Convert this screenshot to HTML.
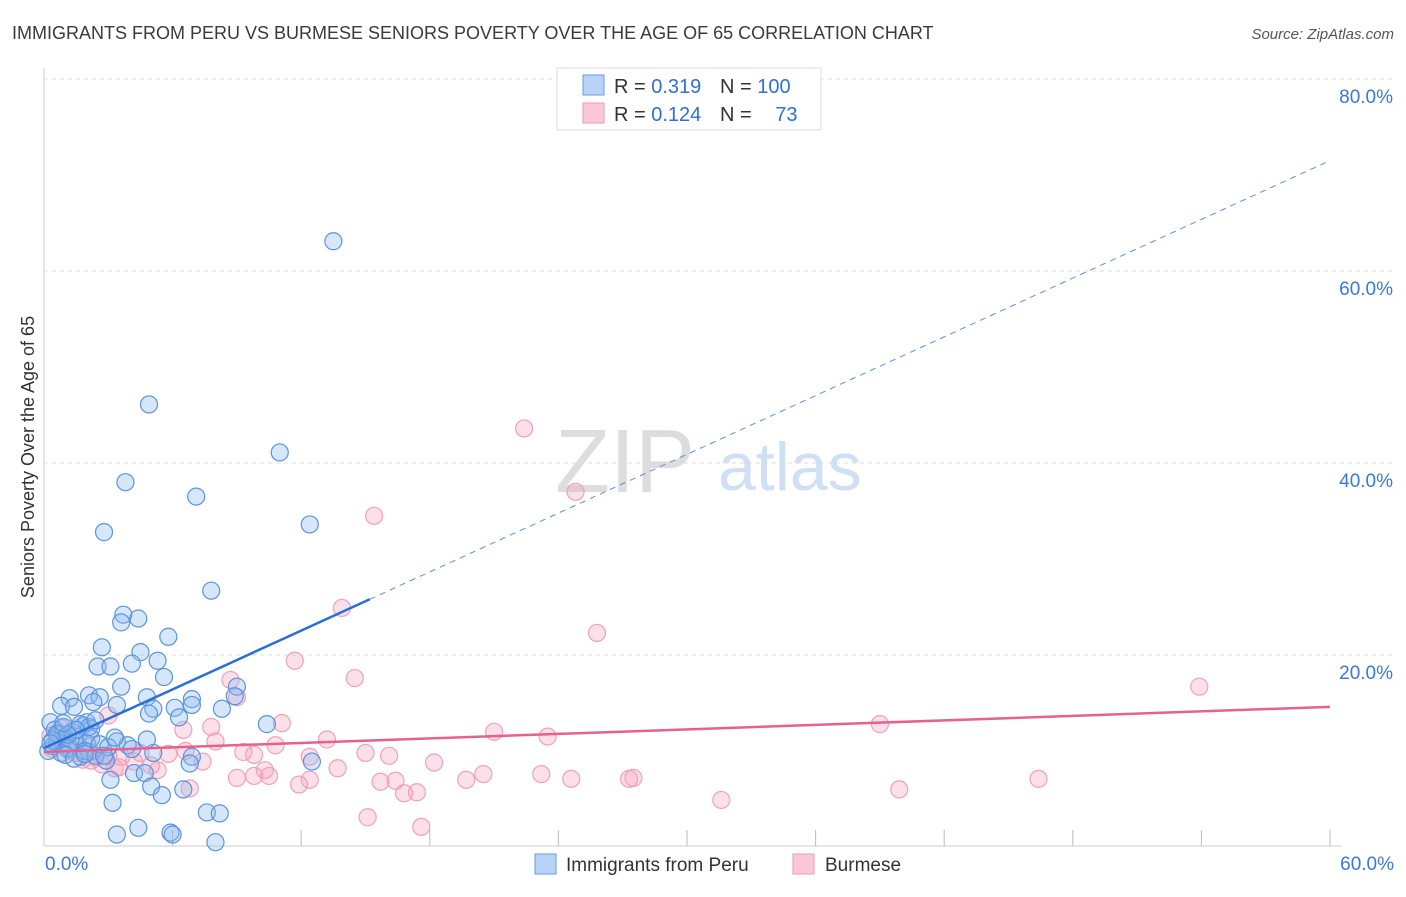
<!DOCTYPE html>
<html><head><meta charset="utf-8"><style>
body{margin:0;background:#fff;font-family:"Liberation Sans",sans-serif;}
svg text{font-family:"Liberation Sans",sans-serif;}
</style></head><body>
<svg id="chart" width="1406" height="892">
<text x="12" y="39" font-size="18" fill="#3a3a3a">IMMIGRANTS FROM PERU VS BURMESE SENIORS POVERTY OVER THE AGE OF 65 CORRELATION CHART</text>
<text x="1394" y="39" font-size="15" fill="#555" font-style="italic" text-anchor="end">Source: ZipAtlas.com</text>
<text x="34" y="457" font-size="18" fill="#333" text-anchor="middle" transform="rotate(-90 34 457)">Seniors Poverty Over the Age of 65</text>
<text x="555" y="492" font-size="90" fill="#ddd" font-family="Liberation Serif">ZIP</text>
<text x="718" y="490" font-size="68" fill="#cfe0f4">atlas</text>
<g id="grid"></g>
<g id="pts"></g>
<g id="lines"></g>
<g>
<rect x="557" y="68" width="264" height="62" fill="#fff" stroke="#ddd"/>
<rect x="583" y="75" width="21" height="20" fill="#b8d3f5" stroke="#6a9ee0"/>
<rect x="583" y="103" width="21" height="20" fill="#fac8d6" stroke="#ef9ab3"/>
<text x="614" y="93" font-size="20" fill="#333">R = <tspan fill="#2f6fd6">0.319</tspan></text>
<text x="720" y="93" font-size="20" fill="#333">N = <tspan fill="#2f6fd6">100</tspan></text>
<text x="614" y="121" font-size="20" fill="#333">R = <tspan fill="#2f6fd6">0.124</tspan></text>
<text x="720" y="121" font-size="20" fill="#333">N = <tspan fill="#2f6fd6" dx="18">73</tspan></text>
</g>
<g>
<rect x="535" y="854" width="21" height="20" fill="#b8d3f5" stroke="#6a9ee0"/>
<text x="566" y="871" font-size="19" fill="#333">Immigrants from Peru</text>
<rect x="793" y="854" width="21" height="20" fill="#fac8d6" stroke="#ef9ab3"/>
<text x="825" y="871" font-size="19" fill="#333">Burmese</text>
</g>
</svg>
<script>
const blueX=[13.5,4.9,11.0,3.8,7.1,12.4,2.8,7.8,3.7,3.6,4.4,5.8,2.7,4.5,5.3,2.5,3.1,4.1,5.6,3.6,9.0,2.1,2.6,4.8,6.9,8.9,1.2,0.8,1.4,2.3,3.4,5.1,6.1,6.9,8.3,4.9,6.3,10.4,0.3,0.5,0.7,0.9,1.0,1.3,1.5,1.8,2.0,2.2,0.4,0.6,1.1,1.6,2.0,0.2,0.8,1.2,2.1,2.2,1.7,3.4,3.9,1.0,1.4,1.9,2.4,2.9,0.4,1.7,2.1,4.1,5.1,6.9,12.5,6.8,3.1,4.2,4.7,5.0,5.5,6.5,7.6,8.2,3.2,3.4,4.4,5.9,6.0,8.0,0.6,1.5,2.6,3.0,4.8,3.3,2.4,1.1,1.9,0.3,0.9,2.8];
const blueY=[63.1,46.1,41.1,38.0,36.5,33.6,32.8,26.7,24.2,23.4,23.8,21.9,20.8,20.3,19.4,18.8,18.8,19.1,17.7,16.7,16.7,15.8,15.6,15.6,15.4,15.7,15.5,14.7,14.6,15.1,14.8,14.4,14.5,14.8,14.4,13.9,13.5,12.8,13.0,12.2,11.8,12.5,11.4,12.0,11.0,12.6,13.0,12.3,10.5,10.9,10.2,11.5,10.8,10.0,9.8,10.3,9.9,11.3,9.4,11.0,10.6,9.6,9.2,10.0,9.5,9.0,11.1,12.8,12.5,10.2,9.8,9.4,8.9,8.7,7.0,7.7,7.7,6.3,5.4,6.0,3.6,3.5,4.6,1.3,2.0,1.5,1.3,0.5,11.8,12.2,10.7,10.4,11.2,11.4,13.2,11.7,9.7,10.8,12.9,9.5];
const pinkX=[22.4,24.8,15.4,13.9,25.8,11.7,53.9,14.5,8.7,9.0,11.1,7.8,39.0,21.0,23.5,6.5,3.0,13.2,10.8,15.0,16.1,9.8,9.3,18.2,12.4,8.0,10.3,20.5,23.2,24.6,27.3,27.5,46.4,19.7,15.7,16.4,13.7,9.0,9.8,10.5,11.9,12.4,16.8,17.4,31.6,39.9,15.1,17.6,0.3,0.6,0.9,1.2,1.5,1.8,2.1,2.4,2.7,3.0,3.3,3.6,4.2,5.0,5.8,6.6,7.4,0.8,1.5,2.2,3.5,4.5,5.3,6.8,0.4];
const pinkY=[43.6,37.0,34.5,24.9,22.3,19.4,16.7,17.6,17.4,15.6,12.9,12.5,12.8,12.0,11.5,12.2,13.7,11.2,10.6,9.8,9.5,9.6,9.9,8.8,9.4,11.0,8.0,7.6,7.6,7.1,7.1,7.2,7.1,7.0,6.8,6.9,8.2,7.2,7.4,7.4,6.5,7.0,5.6,5.7,4.9,6.0,3.1,2.1,11.6,10.7,11.2,10.0,9.8,9.1,10.4,9.3,8.6,9.5,8.2,9.4,8.9,8.5,9.7,10.0,8.9,12.4,11.0,9.0,8.3,9.8,8.0,6.1,10.2];
const yTicks=[20,40,60,80];
const yTickLabels=["20.0%","40.0%","60.0%","80.0%"];
const xTickLabels=["0.0%","60.0%"];
const blueTrend=[10.3,71.5];
const pinkTrend=[9.9,14.6];
const X0=44,X1=1330,Y0=847;
const sx=v=>X0+(X1-X0)*v/60;
const sy=v=>Y0-v*9.6;
const NS="http://www.w3.org/2000/svg";
function mk(tag,attrs,parent){const e=document.createElementNS(NS,tag);for(const k in attrs)e.setAttribute(k,attrs[k]);parent.appendChild(e);return e;}
const grid=document.getElementById('grid');
let ax=mk('line',{x1:X0,y1:68,x2:X0,y2:846,stroke:'#ccc'},grid);


let bx=mk('line',{x1:X0,y1:846,x2:X1+12,y2:846,stroke:'#ccc'},grid);


yTicks.forEach((t,i)=>{
 const g=mk('line',{x1:X0,y1:sy(t),x2:1394,y2:sy(t),stroke:'#ddd','stroke-dasharray':'4,4'},grid);
 
 
 const tx=mk('text',{x:1393,y:sy(t)+24,'font-size':19,fill:'#3b78d8','text-anchor':'end'},grid);
 tx.textContent=yTickLabels[i];
 
 
});
for(let i=1;i<=10;i++){
 const x=X0+(X1-X0)*i/10;
 const t=mk('line',{x1:x,y1:830,x2:x,y2:846,stroke:'#bbb'},grid);
 
 
}
const xl0=mk('text',{x:45,y:870,'font-size':19,fill:'#3b78d8'},grid);xl0.textContent=xTickLabels[0];


const xl1=mk('text',{x:1394,y:870,'font-size':19,fill:'#3b78d8','text-anchor':'end'},grid);xl1.textContent=xTickLabels[1];


const pts=document.getElementById('pts');
pinkX.forEach((v,i)=>{const c=mk('circle',{cx:sx(v),cy:sy(pinkY[i]),r:8.5,fill:'rgba(246,160,186,0.32)',stroke:'#f0a0b8','stroke-width':1.2},pts);
 
 });
blueX.forEach((v,i)=>{const c=mk('circle',{cx:sx(v),cy:sy(blueY[i]),r:8.5,fill:'rgba(140,185,240,0.35)',stroke:'#5a93de','stroke-width':1.2},pts);
 
 });
const lines=document.getElementById('lines');
const bAt=x=>blueTrend[0]+(blueTrend[1]-blueTrend[0])*x/60;
const l1=mk('line',{x1:sx(0),y1:sy(bAt(0)),x2:sx(15.2),y2:sy(bAt(15.2)),stroke:'#2a6fd6','stroke-width':2.5},lines);


const l2=mk('line',{x1:sx(15.2),y1:sy(bAt(15.2)),x2:sx(60),y2:sy(bAt(60)),stroke:'#5b8fd8','stroke-width':1,'stroke-dasharray':'6,5'},lines);


const l3=mk('line',{x1:sx(0),y1:sy(pinkTrend[0]),x2:sx(60),y2:sy(pinkTrend[1]),stroke:'#e8608d','stroke-width':2.5},lines);


</script>
</body></html>
